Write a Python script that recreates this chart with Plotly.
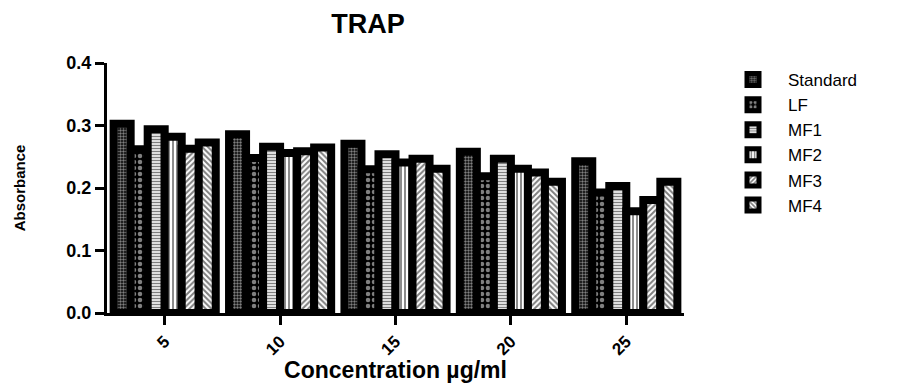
import plotly.graph_objects as go

categories = ["5", "10", "15", "20", "25"]
series_names = ["Standard", "LF", "MF1", "MF2", "MF3", "MF4"]
standard = [0.303, 0.286, 0.271, 0.258, 0.243]
lf = [0.262, 0.248, 0.230, 0.219, 0.193]
mf1 = [0.294, 0.266, 0.254, 0.247, 0.203]
mf2 = [0.282, 0.256, 0.241, 0.231, 0.163]
mf3 = [0.263, 0.259, 0.247, 0.225, 0.181]
mf4 = [0.273, 0.265, 0.231, 0.210, 0.210]
y_ticks = [0.0, 0.1, 0.2, 0.3, 0.4]

series_values = [standard, lf, mf1, mf2, mf3, mf4]
patterns = [
    dict(shape=".", bgcolor="black", fgcolor="white", size=3, solidity=0.5),
    dict(shape=".", bgcolor="black", fgcolor="white", size=6, solidity=0.45),
    dict(shape="-", bgcolor="white", fgcolor="black", size=3, solidity=0.5),
    dict(shape="|", bgcolor="white", fgcolor="black", size=4, solidity=0.45),
    dict(shape="/", bgcolor="white", fgcolor="black", size=4, solidity=0.5),
    dict(shape="\\", bgcolor="white", fgcolor="black", size=4, solidity=0.5),
]

FONT = "Liberation Sans, Arial, sans-serif"

fig = go.Figure()
for name, vals, pat in zip(series_names, series_values, patterns):
    fig.add_trace(go.Bar(
        name=name, x=categories, y=vals,
        marker=dict(color="white", pattern=pat, line=dict(color="black", width=8)),
    ))

L, R, T, B = 107, 228, 63, 70
W, H = 912, 383
pw = W - L - R
ph = H - T - B

fig.update_layout(
    width=W, height=H,
    margin=dict(l=L, r=R, t=T, b=B, autoexpand=False),
    plot_bgcolor="white", paper_bgcolor="white",
    barmode="group", bargap=0.115, bargroupgap=0,
    font=dict(family=FONT, color="black"),
    title=dict(text="<b>TRAP</b>", x=368 / W, xanchor="center", y=1 - 24 / H, yanchor="middle",
               font=dict(size=27, family=FONT, color="black")),
    legend=dict(x=(718 - L) / pw, xanchor="left", y=(H - B - 62) / ph, yanchor="top",
                font=dict(size=17, family=FONT, color="black"), itemwidth=60,
                bgcolor="rgba(0,0,0,0)"),
    showlegend=True,
)
fig.update_xaxes(
    range=[-0.5, 4.5], showline=True, linecolor="black", linewidth=3,
    ticks="outside", ticklen=9, tickwidth=3, tickcolor="black", tickangle=-45,
    tickvals=categories, ticktext=[f"<b>{c}</b>" for c in categories],
    tickfont=dict(size=17, family=FONT, color="black"),
    title=dict(text="<b>Concentration µg/ml</b>", font=dict(size=23, family=FONT, color="black"), standoff=5),
    showgrid=False, zeroline=False, automargin=False,
)
fig.update_yaxes(
    range=[0, 0.4], showline=True, linecolor="black", linewidth=3,
    ticks="outside", ticklen=9, tickwidth=3, tickcolor="black",
    tickvals=y_ticks, ticktext=[f"<b>{v:.1f}</b>" for v in y_ticks],
    tickfont=dict(size=18, family=FONT, color="black"),
    title=dict(text="<b>Absorbance</b>", font=dict(size=15, family=FONT, color="black"), standoff=38),
    showgrid=False, zeroline=False, automargin=False,
)

fig.write_html("out.html")
